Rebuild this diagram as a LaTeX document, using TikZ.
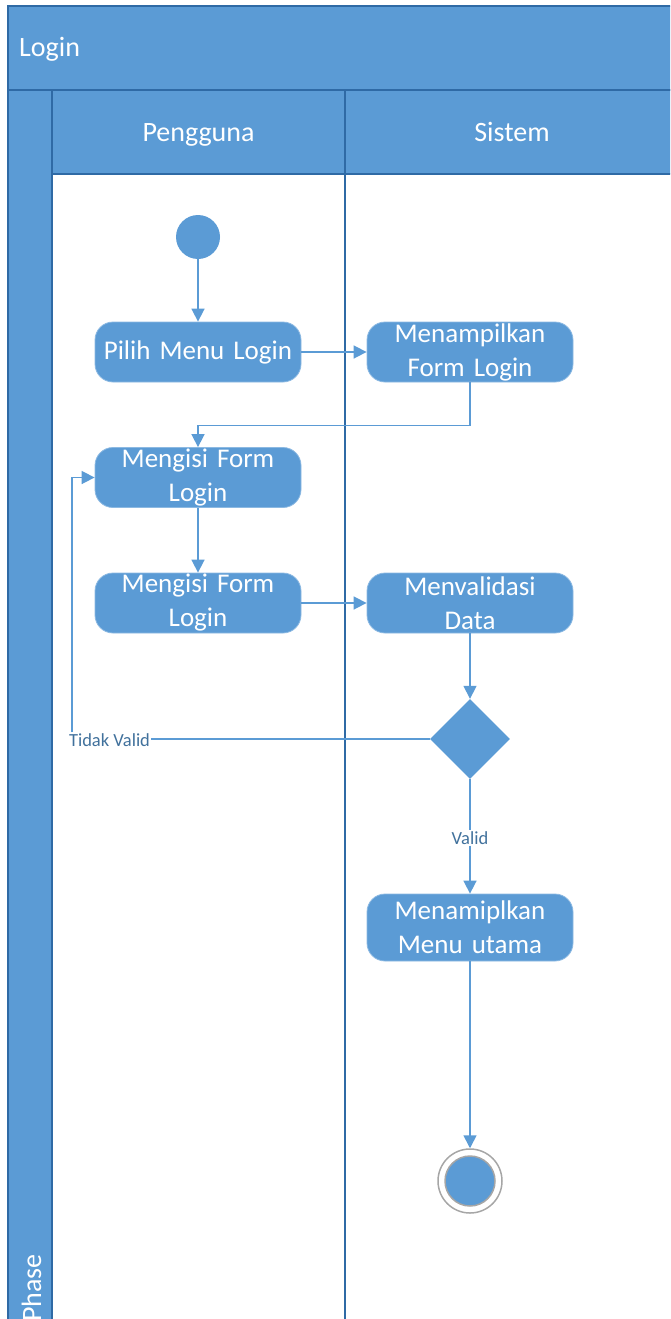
\documentclass[tikz,border=0pt]{standalone}
\usepackage{fontspec}
\setmainfont{Carlito}
\usetikzlibrary{arrows.meta,shapes.geometric}
\definecolor{accent}{HTML}{5B9BD5}
\definecolor{frame}{HTML}{2F6AA5}
\definecolor{lbl}{HTML}{41719C}
\definecolor{ring}{HTML}{A6A6A6}
\tikzset{
  lane/.style={fill=accent,draw=frame,line width=1.6pt},
  act/.style={fill=accent,draw=accent!70!white,line width=0.8pt,rounded corners=18pt,
    minimum width=206pt,minimum height=60pt,text width=204pt,align=center,
    text=white,inner sep=0pt,font=\fontsize{27}{34}\selectfont},
  flow/.style={draw=accent,line width=1.6pt,-{Triangle[length=13pt,width=13pt]}},
  plain/.style={draw=accent,line width=1.6pt},
  guard/.style={text=lbl,font=\fontsize{18.5}{20}\selectfont,inner sep=1pt},
  head/.style={text=white,font=\fontsize{28}{32}\selectfont,inner sep=0pt}
}
\begin{document}
\begin{tikzpicture}[x=1pt,y=-1pt]
\useasboundingbox (0,0) rectangle (670,1319);
\begin{scope}
\clip (0,0) rectangle (670,1319);
% pool frame and headers
\draw[lane] (8,6) rectangle (690,90);
\draw[lane] (8,90) rectangle (52,1340);
\draw[lane] (52,90) rectangle (345,174);
\draw[lane] (345,90) rectangle (690,174);
\draw[frame,line width=2pt] (345,174) -- (345,1340);
\node[head,anchor=base west] (title) at (19,57) {Login};
\node[head,anchor=base] (lane1) at (198.5,142) {Pengguna};
\node[head,anchor=base] (lane2) at (512,142) {Sistem};
\node[head,rotate=90,anchor=base east] (phase) at (41,1254) {Phase};
\end{scope}

% activity nodes
\node[circle,fill=accent,minimum size=44pt,inner sep=0pt] (start) at (198,237) {};
\node[act] (pilih) at (198,352) {Pilih Menu Login};
\node[act] (tampil) at (470,352) {Menampilkan\\Form Login};
\node[act] (isi1) at (198,477.5) {Mengisi Form\\Login};
\node[act] (isi2) at (198,603) {Mengisi Form\\Login};
\node[act] (valid) at (470,603) {Menvalidasi\\Data};
\node[diamond,fill=accent,minimum width=80pt,minimum height=80pt,inner sep=0pt] (dec) at (470,739) {};
\node[act,minimum height=67pt] (menu) at (470,927.5) {Menamiplkan\\Menu utama};
\node[circle,draw=ring,line width=1.5pt,minimum size=64pt,inner sep=0pt] (endo) at (470,1181) {};
\node[circle,fill=accent,draw=ring,line width=1.5pt,minimum size=50pt,inner sep=0pt] (end) at (470,1181) {};

% guard labels
\node[guard] (tv) at (109.5,740) {Tidak Valid};
\node[guard] (ok) at (470,838) {Valid};
\coordinate (loop) at (72,477.5);

% control flow
\draw[flow] (start) -- (pilih);
\draw[flow] (pilih) -- (tampil);
\draw[flow] (tampil.south) -- ++(0,43) -| (isi1.north);
\draw[flow] (isi1) -- (isi2);
\draw[flow] (isi2) -- (valid);
\draw[flow] (valid) -- (dec);
\draw[plain] (dec.west) -- (dec.west -| tv.east);
\draw[flow] (tv.north -| loop) -- (loop) -- (isi1.west);
\draw[plain] (dec.south) -- (ok.north);
\draw[flow] (ok.south) -- (menu.north);
\draw[flow] (menu.south) -- (endo.north);
\end{tikzpicture}
\end{document}
